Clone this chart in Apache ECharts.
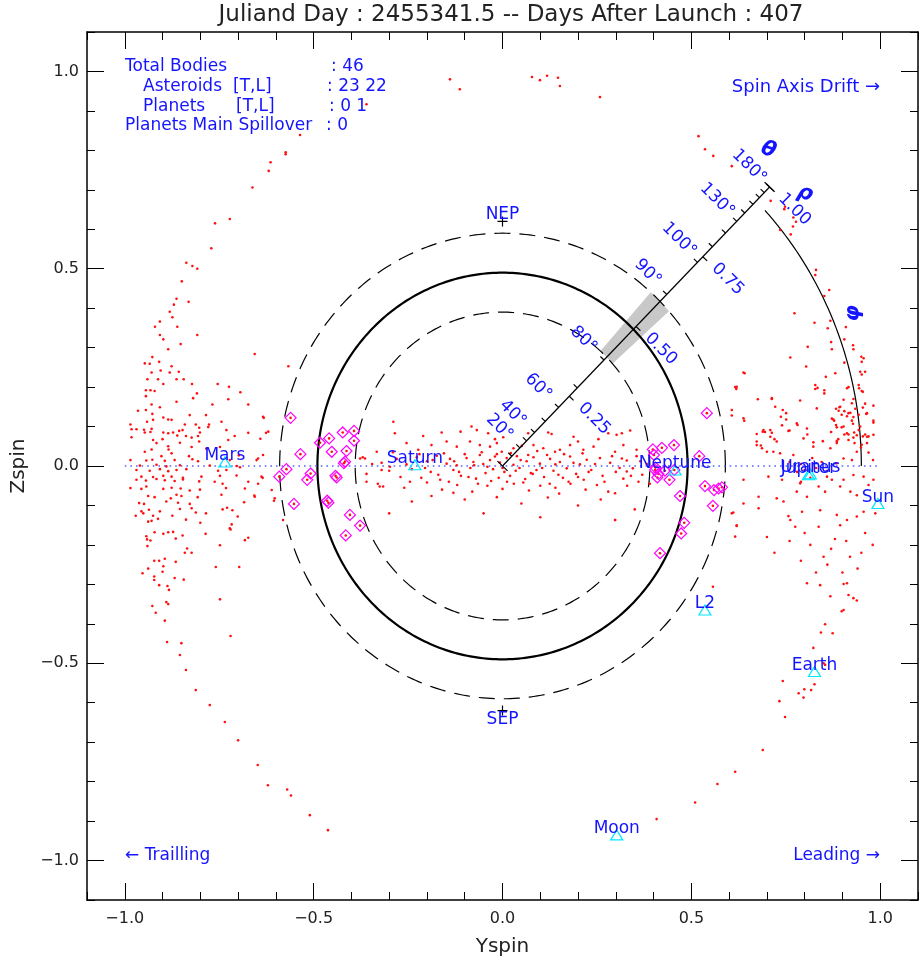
<!DOCTYPE html>
<html><head><meta charset="utf-8">
<script src="https://cdn.jsdelivr.net/npm/echarts@6/dist/echarts.min.js"></script>
<style>html,body{margin:0;padding:0;background:#fff}#c{width:920px;height:963px}</style>
</head><body><div id="c"></div>
<script>
// ---------- data ----------
const xMajorTicks = [-1.0, -0.5, 0.0, 0.5, 1.0];
const yMajorTicks = [-1.0, -0.5, 0.0, 0.5, 1.0];
const ringInner = 0.39, ringMain = 0.49, ringOuter = 0.59;
const radialAxisAngle = 45;
const rhoTicks = [0.25, 0.5, 0.75, 1.0];
const rhoTickLabels = ['0.25', '0.50', '0.75', '1.00'];
const thetaTickRho = [0.035, 0.065, 0.09, 0.12, 0.16, 0.21, 0.28, 0.38, 0.615, 0.73, 0.786, 0.835, 0.877, 0.907, 0.938, 0.962, 0.98, 1.0];
const thetaLabelDeg = [20, 40, 60, 80, 90, 100, 130, 180];
const thetaLabelRho = [0.065, 0.115, 0.21, 0.38, 0.62, 0.738, 0.88, 1.0];
const bandRho = [0.39, 0.59];
const bandHalfDeg = 3.3;
const phiArcRadius = 0.95, phiArcEndDeg = 43;
const poleNames = ['NEP', 'SEP'];
const poleY = [0, 0];
const poleZ = [0.62, -0.62];
const planetNames = ['Mars', 'Saturn', 'Neptune', 'Jupiter', 'Uranus', 'Sun', 'L2', 'Earth', 'Moon'];
const planetY = [-0.735, -0.232, 0.457, 0.81, 0.815, 0.994, 0.536, 0.826, 0.3025];
const planetZ = [0.01, 0.003, -0.01, -0.022, -0.02, -0.095, -0.365, -0.521, -0.935];
const trailingAsteroids = [[-0.561,0.122],[-0.459,0.070],[-0.483,0.059],[-0.423,0.085],[-0.393,0.089],[-0.393,0.064],[-0.535,0.030],[-0.452,0.036],[-0.413,0.038],[-0.417,0.011],[-0.420,0.007],[-0.572,-0.008],[-0.591,-0.027],[-0.508,-0.019],[-0.517,-0.035],[-0.442,-0.025],[-0.439,-0.029],[-0.464,-0.088],[-0.461,-0.093],[-0.552,-0.096],[-0.404,-0.124],[-0.377,-0.151],[-0.415,-0.176]];
const leadingAsteroids = [[0.541,0.134],[0.398,0.042],[0.422,0.046],[0.454,0.053],[0.401,0.028],[0.521,0.025],[0.404,-0.010],[0.413,-0.020],[0.410,-0.029],[0.442,-0.035],[0.536,-0.051],[0.560,-0.061],[0.581,-0.054],[0.572,-0.057],[0.470,-0.076],[0.557,-0.101],[0.481,-0.144],[0.473,-0.171],[0.417,-0.221],[0.430,-0.012],[0.405,-0.004],[0.455,-0.010]];
const debrisLeft = [[-0.907,0.332],[-0.808,0.332],[-0.898,0.321],[-0.852,0.309],[-0.885,0.296],[-0.656,0.284],[-0.927,0.276],[-0.947,0.26],[-0.934,0.259],[-0.909,0.264],[-0.876,0.253],[-0.567,0.253],[-0.905,0.242],[-0.929,0.237],[-0.881,0.237],[-0.857,0.239],[-0.94,0.22],[-0.912,0.22],[-0.863,0.22],[-0.844,0.22],[-0.898,0.208],[-0.822,0.208],[-0.754,0.208],[-0.724,0.201],[-0.944,0.192],[-0.932,0.192],[-0.921,0.19],[-0.809,0.184],[-0.694,0.187],[-0.944,0.177],[-0.819,0.172],[-0.726,0.169],[-0.863,0.163],[-0.929,0.156],[-0.768,0.156],[-0.673,0.156],[-0.907,0.149],[-0.965,0.14],[-0.944,0.142],[-0.927,0.132],[-0.828,0.129],[-0.785,0.129],[-0.632,0.122],[-0.898,0.123],[-0.885,0.118],[-0.876,0.117],[-0.925,0.117],[-0.941,0.112],[-0.744,0.112],[-0.985,0.105],[-0.841,0.105],[-0.812,0.105],[-0.777,0.105],[-0.779,0.099],[-0.803,0.097],[-0.982,0.093],[-0.969,0.093],[-0.929,0.094],[-0.949,0.092],[-0.731,0.091],[-0.856,0.089],[-0.847,0.091],[-0.947,0.085],[-0.932,0.086],[-0.898,0.085],[-0.885,0.083],[-0.872,0.085],[-0.801,0.085],[-0.673,0.084],[-0.626,0.084],[-0.709,0.076],[-0.861,0.077],[-0.823,0.072],[-0.806,0.076],[-0.838,0.076],[-0.726,0.066],[-0.982,0.073],[-0.925,0.066],[-0.9,0.068],[-0.916,0.058],[-0.854,0.059],[-0.803,0.062],[-0.641,0.069],[-0.823,0.048],[-0.885,0.05],[-0.748,0.048],[-0.884,0.042],[-0.929,0.042],[-0.784,0.044],[-0.947,0.036],[-0.876,0.032],[-0.903,0.025],[-0.83,0.025],[-0.647,0.019],[-0.634,0.028],[-0.698,0.027],[-0.985,0.015],[-0.943,0.014],[-0.927,0.016],[-0.894,0.013],[-0.868,0.015],[-0.821,0.017],[-0.722,0.015],[-0.806,0.012],[-0.96,0.001],[-0.916,0.003],[-0.89,-0.001],[-0.854,0.002],[-0.775,0.001],[-0.704,0.0],[-0.695,-0.003],[-0.969,-0.01],[-0.934,-0.012],[-0.907,-0.008],[-0.885,-0.013],[-0.863,-0.01],[-0.837,-0.008],[-0.753,-0.012],[-0.731,-0.01],[-0.956,-0.027],[-0.925,-0.028],[-0.898,-0.025],[-0.876,-0.027],[-0.846,-0.03],[-0.797,-0.027],[-0.748,-0.025],[-0.704,-0.024],[-0.635,-0.03],[-0.969,-0.035],[-0.944,-0.037],[-0.916,-0.033],[-0.894,-0.036],[-0.868,-0.038],[-0.846,-0.034],[-0.803,-0.039],[-0.762,-0.04],[-0.741,-0.045],[-0.673,-0.04],[-0.647,-0.045],[-0.985,-0.056],[-0.956,-0.058],[-0.943,-0.052],[-0.898,-0.058],[-0.876,-0.055],[-0.852,-0.057],[-0.828,-0.062],[-0.801,-0.06],[-0.732,-0.056],[-0.682,-0.057],[-0.938,-0.076],[-0.921,-0.079],[-0.878,-0.082],[-0.863,-0.073],[-0.85,-0.076],[-0.807,-0.079],[-0.744,-0.073],[-0.657,-0.075],[-0.962,-0.094],[-0.949,-0.096],[-0.89,-0.09],[-0.859,-0.093],[-0.828,-0.096],[-0.684,-0.092],[-0.605,-0.088],[-0.956,-0.115],[-0.936,-0.111],[-0.907,-0.115],[-0.854,-0.109],[-0.823,-0.107],[-0.812,-0.118],[-0.741,-0.11],[-0.729,-0.106],[-0.715,-0.112],[-0.785,-0.12],[-0.971,-0.126],[-0.951,-0.12],[-0.925,-0.126],[-0.912,-0.134],[-0.874,-0.126],[-0.838,-0.136],[-0.701,-0.128],[-0.938,-0.141],[-0.929,-0.139],[-0.8,-0.144],[-0.717,-0.148],[-0.722,-0.158],[-0.72,-0.161],[-0.921,-0.168],[-0.898,-0.172],[-0.885,-0.168],[-0.872,-0.167],[-0.847,-0.176],[-0.786,-0.172],[-0.943,-0.178],[-0.941,-0.186],[-0.932,-0.189],[-0.865,-0.184],[-0.682,-0.188],[-0.673,-0.182],[-0.94,-0.203],[-0.835,-0.209],[-0.841,-0.22],[-0.823,-0.22],[-0.748,-0.201],[-0.922,-0.24],[-0.909,-0.24],[-0.894,-0.235],[-0.865,-0.243],[-0.938,-0.26],[-0.898,-0.254],[-0.759,-0.256],[-0.697,-0.256],[-0.953,-0.272],[-0.9,-0.268],[-0.922,-0.28],[-0.922,-0.289],[-0.868,-0.284],[-0.844,-0.288],[-0.909,-0.302],[-0.887,-0.304],[-0.883,-0.314],[-0.748,-0.338],[-0.89,-0.345],[-0.885,-0.35],[-0.927,-0.355],[-0.918,-0.372],[-0.894,-0.392],[-0.72,-0.431],[-0.888,-0.446],[-0.85,-0.449],[-0.854,-0.479],[-0.838,-0.517],[-0.812,-0.568],[-0.775,-0.606],[-0.735,-0.649],[-0.7,-0.695],[-0.648,-0.758],[-0.621,-0.809],[-0.57,-0.82],[-0.56,-0.835],[-0.51,-0.885],[-0.462,-0.923],[-0.536,0.839],[-0.574,0.795],[-0.574,0.79],[-0.614,0.77],[-0.619,0.748],[-0.662,0.706],[-0.722,0.626],[-0.761,0.615],[-0.771,0.552],[-0.837,0.515],[-0.821,0.507],[-0.808,0.5],[-0.849,0.468],[-0.831,0.416],[-0.863,0.424],[-0.87,0.409],[-0.881,0.391],[-0.874,0.377],[-0.907,0.366],[-0.92,0.353],[-0.861,0.353],[-0.634,0.125],[-0.62,0.087],[-0.651,0.015],[-0.638,-0.027],[-0.611,-0.061],[-0.656,-0.078],[-0.603,-0.082],[-0.581,-0.137]];
const debrisCenter = [[-0.37,0.022],[-0.32,0.008],[-0.28,0.018],[-0.254,0.004],[-0.227,0.022],[-0.2,0.012],[-0.174,0.026],[-0.148,0.006],[-0.139,0.018],[-0.121,0.002],[-0.095,0.02],[-0.077,0.01],[-0.06,0.028],[-0.051,0.005],[-0.033,0.015],[-0.02,0.024],[-0.007,0.009],[0.011,0.02],[0.029,0.003],[0.038,0.025],[0.064,0.012],[0.082,0.022],[0.099,0.006],[0.126,0.018],[0.152,0.01],[0.179,0.024],[0.205,0.004],[0.223,0.016],[0.258,0.02],[0.285,0.008],[0.329,0.014],[0.355,0.025],[0.382,0.005],[-0.36,-0.02],[-0.3,-0.012],[-0.27,-0.028],[-0.24,-0.008],[-0.215,-0.03],[-0.19,-0.015],[-0.165,-0.035],[-0.13,-0.01],[-0.11,-0.025],[-0.085,-0.005],[-0.07,-0.032],[-0.045,-0.018],[-0.025,-0.008],[-0.01,-0.03],[0.005,-0.015],[0.02,-0.025],[0.045,-0.005],[0.06,-0.033],[0.075,-0.018],[0.09,-0.01],[0.11,-0.028],[0.135,-0.012],[0.16,-0.03],[0.17,-0.006],[0.195,-0.02],[0.215,-0.035],[0.235,-0.01],[0.265,-0.025],[0.3,-0.015],[0.32,-0.032],[0.345,-0.006],[0.37,-0.022],[-0.33,-0.045],[-0.26,-0.055],[-0.2,-0.042],[-0.16,-0.06],[-0.12,-0.048],[-0.08,-0.065],[-0.04,-0.05],[0.0,-0.058],[0.03,-0.045],[0.07,-0.062],[0.1,-0.05],[0.14,-0.055],[0.18,-0.045],[0.22,-0.06],[0.25,-0.048],[0.28,-0.065],[0.33,-0.05],[0.36,-0.04],[-0.316,-0.052],[-0.188,-0.076],[-0.015,-0.079],[-0.24,-0.09],[-0.1,-0.085],[0.05,-0.095],[0.12,-0.08],[0.2,-0.1],[0.26,-0.085],[0.298,-0.137],[0.35,-0.11],[-0.3,-0.12],[-0.05,-0.12],[0.1,-0.13],[-0.289,0.112],[-0.285,0.083],[-0.21,0.076],[-0.161,0.085],[-0.111,0.087],[-0.082,0.1],[-0.068,0.091],[-0.038,0.083],[0.002,0.073],[0.068,0.083],[0.121,0.085],[0.13,0.081],[0.188,0.074],[0.254,0.068],[0.316,0.083],[0.338,0.09],[0.28,0.083],[-0.377,0.019],[-0.333,0.036],[-0.254,0.058],[-0.223,0.041],[-0.188,0.053],[-0.148,0.062],[-0.121,0.049],[-0.086,0.062],[-0.06,0.053],[-0.033,0.049],[-0.015,0.058],[-0.002,0.036],[0.029,0.045],[0.051,0.051],[0.082,0.053],[0.108,0.045],[0.139,0.036],[0.152,0.041],[0.179,0.053],[0.214,0.041],[0.241,0.049],[0.298,0.036],[0.32,0.053],[0.355,0.041],[-0.364,0.019],[-0.36,-0.04],[-0.325,-0.052],[-0.32,-0.01],[-0.298,-0.002],[0.302,0.079],[0.316,0.019],[0.329,-0.014],[0.298,-0.069],[-0.22,0.03],[-0.205,-0.005],[-0.185,0.015],[-0.17,-0.022],[-0.155,0.032],[-0.142,-0.04],[-0.128,0.012],[-0.115,-0.015],[-0.1,0.03],[-0.09,-0.028],[-0.075,0.002],[-0.065,-0.045],[-0.055,0.035],[-0.04,-0.002],[-0.03,-0.038],[-0.015,0.03],[0.0,-0.005],[0.012,-0.04],[0.022,0.033],[0.035,-0.012],[0.048,0.015],[0.055,-0.042],[0.068,0.028],[0.08,-0.02],[0.092,0.038],[0.105,-0.005],[0.118,0.028],[0.125,-0.045],[0.14,0.004],[0.148,-0.022],[0.163,0.03],[0.175,-0.04],[0.188,0.008],[0.2,-0.028],[0.212,0.032],[0.228,-0.015],[0.245,0.005],[0.27,-0.04],[0.29,0.025],[0.31,-0.005],[0.34,-0.025],[0.365,0.012],[0.39,-0.045],[-0.245,-0.04],[-0.29,0.035],[-0.345,0.005],[0.2,0.062],[-0.02,0.068],[0.15,-0.07],[-0.13,-0.068]];
const debrisRight = [[0.865,0.446],[0.852,0.431],[0.773,0.387],[0.826,0.363],[0.868,0.368],[0.861,0.349],[0.909,0.352],[0.905,0.321],[0.87,0.314],[0.808,0.302],[0.872,0.296],[0.928,0.306],[0.929,0.296],[0.762,0.275],[0.804,0.252],[0.95,0.277],[0.956,0.273],[0.951,0.264],[0.905,0.262],[0.641,0.235],[0.856,0.226],[0.881,0.235],[0.947,0.239],[0.96,0.239],[0.951,0.232],[0.619,0.195],[0.828,0.195],[0.834,0.198],[0.852,0.192],[0.912,0.197],[0.916,0.2],[0.944,0.197],[0.951,0.19],[0.676,0.169],[0.713,0.17],[0.788,0.166],[0.903,0.168],[0.929,0.17],[0.96,0.158],[0.982,0.153],[0.722,0.15],[0.742,0.142],[0.832,0.146],[0.883,0.145],[0.892,0.149],[0.89,0.14],[0.905,0.139],[0.921,0.135],[0.934,0.145],[0.954,0.148],[0.607,0.128],[0.64,0.115],[0.737,0.125],[0.751,0.118],[0.872,0.12],[0.878,0.115],[0.898,0.13],[0.912,0.126],[0.929,0.124],[0.943,0.13],[0.963,0.132],[0.982,0.115],[0.74,0.103],[0.781,0.104],[0.883,0.104],[0.898,0.098],[0.925,0.115],[0.928,0.107],[0.947,0.1],[0.982,0.11],[0.673,0.081],[0.695,0.086],[0.713,0.084],[0.76,0.09],[0.807,0.08],[0.87,0.086],[0.905,0.08],[0.916,0.08],[0.938,0.078],[0.954,0.075],[0.96,0.08],[0.969,0.075],[0.673,0.062],[0.684,0.052],[0.72,0.068],[0.726,0.062],[0.797,0.07],[0.823,0.06],[0.848,0.063],[0.885,0.063],[0.889,0.068],[0.916,0.066],[0.929,0.072],[0.932,0.058],[0.951,0.054],[0.949,0.047],[0.965,0.058],[0.828,0.205],[0.852,0.184],[0.943,0.205],[0.954,0.188],[0.894,0.15],[0.916,0.134],[0.965,0.134],[0.925,0.159],[0.689,0.087],[0.709,0.091],[0.757,0.089],[0.806,0.095],[0.876,0.118],[0.885,0.098],[0.903,0.1],[0.912,0.083],[0.931,0.085],[0.943,0.091],[0.965,0.074],[0.982,0.079],[0.751,0.134],[0.779,0.108],[0.673,0.053],[0.7,0.036],[0.735,0.032],[0.77,0.028],[0.823,0.049],[0.868,0.045],[0.885,0.058],[0.903,0.019],[0.925,0.015],[0.938,0.036],[0.969,0.034],[0.981,0.015],[0.885,0.007],[0.704,-0.027],[0.74,-0.035],[0.788,-0.044],[0.859,-0.027],[0.872,-0.035],[0.903,-0.035],[0.929,-0.023],[0.956,-0.027],[0.982,-0.035],[0.837,-0.052],[0.678,-0.078],[0.726,-0.082],[0.779,-0.065],[0.806,-0.078],[0.854,-0.065],[0.894,-0.052],[0.921,-0.065],[0.938,-0.074],[0.969,-0.048],[0.744,-0.09],[0.611,-0.118],[0.638,-0.095],[0.678,-0.107],[0.757,-0.127],[0.762,-0.137],[0.793,-0.116],[0.841,-0.112],[0.885,-0.124],[0.912,-0.137],[0.938,-0.128],[0.956,-0.116],[0.987,-0.12],[0.62,-0.152],[0.775,-0.154],[0.837,-0.154],[0.894,-0.15],[0.79,0.005],[0.8,-0.01],[0.83,-0.005],[0.845,0.01],[0.82,0.02],[0.78,-0.015],[0.76,0.01],[0.86,-0.012],[0.815,-0.03],[0.79,-0.04],[0.76,-0.19],[0.815,-0.2],[0.87,-0.21],[0.92,-0.23],[0.95,-0.22],[0.79,-0.24],[0.86,-0.25],[0.98,-0.2],[0.9,-0.27],[0.83,-0.27],[0.94,-0.26],[0.72,-0.22],[0.88,-0.185],[0.96,-0.17],[0.8,-0.17],[0.7,-0.18],[0.85,-0.23],[0.91,-0.19],[0.806,-0.297],[0.841,-0.302],[0.903,-0.299],[0.912,-0.297],[0.868,-0.33],[0.916,-0.327],[0.929,-0.335],[0.938,-0.341],[0.898,-0.368],[0.903,-0.365],[0.854,-0.401],[0.843,-0.422],[0.874,-0.424],[0.823,-0.461],[0.85,-0.5],[0.854,-0.504],[0.826,-0.553],[0.742,-0.545],[0.817,-0.568],[0.799,-0.566],[0.784,-0.576],[0.797,-0.587],[0.733,-0.596],[0.748,-0.636],[0.689,-0.72],[0.616,-0.775],[0.569,-0.806],[0.51,-0.853],[0.408,-0.895],[0.557,-0.306],[0.519,0.836],[0.536,0.803],[0.558,0.786],[0.607,0.76],[0.71,0.672],[0.748,0.657],[0.746,0.651],[0.77,0.63],[0.777,0.619],[0.735,0.598],[0.763,0.587],[0.769,0.607],[0.83,0.497],[0.828,0.484],[0.638,0.237],[0.616,0.2],[0.713,0.172],[0.691,0.091],[0.709,0.074],[0.687,0.045],[0.717,0.036],[0.62,0.201],[0.607,0.142],[0.638,0.121],[0.638,-0.035],[0.616,-0.179],[0.607,-0.12],[0.62,-0.15],[0.298,-0.137]];
const debrisTop = [[-0.139,0.98],[-0.113,0.955],[0.078,0.986],[0.099,0.978],[0.118,0.989],[0.147,0.984],[0.152,0.963],[0.258,0.935],[-0.36,0.917]];

// ---------- chart ----------
const FONT = '"DejaVu Sans", sans-serif';
const BLUE = '#1414ff';
const C45 = Math.cos(radialAxisAngle * Math.PI / 180), S45 = Math.sin(radialAxisAngle * Math.PI / 180);
const fmt = v => (v < 0 ? '\u2212' : '') + Math.abs(v).toFixed(1);

function ring(r, width, dash) {
  return { type: 'custom', coordinateSystem: 'cartesian2d', silent: true, z: 3, data: [[0, 0]],
    renderItem: (p, api) => {
      const c = api.coord([0, 0]), s = api.size([r, r]);
      const pts = [];
      for (let i = 0; i <= 360; i += 1) { const a = i * Math.PI / 180; pts.push([c[0] + s[0] * Math.cos(a), c[1] - s[1] * Math.sin(a)]); }
      return { type: 'polyline', shape: { points: pts }, style: { stroke: '#000', lineWidth: width, fill: null, lineDash: dash } };
    } };
}

function axisPair(dir, pos, withLabels, name) {
  const major = {
    type: 'value', min: -1.1, max: 1.1, position: pos,
    axisLine: { show: true, onZero: false, lineStyle: { color: '#000', width: 1.5 } },
    axisTick: { show: true, inside: true, length: 17, customValues: dir === 'x' ? xMajorTicks : yMajorTicks, lineStyle: { color: '#000', width: 1 } },
    axisLabel: withLabels ? { show: true, customValues: dir === 'x' ? xMajorTicks : yMajorTicks, formatter: fmt, color: '#222', fontSize: 16, fontFamily: FONT, margin: dir === 'x' ? 11 : 8 } : { show: false },
    splitLine: { show: false }
  };
  if (name) Object.assign(major, name);
  const minor = {
    type: 'value', min: -1.1, max: 1.1, interval: 0.1, position: pos,
    axisLine: { show: false, onZero: false }, axisTick: { show: true, inside: true, length: 8, lineStyle: { color: '#000', width: 1 } },
    axisLabel: { show: false }, splitLine: { show: false }
  };
  return [major, minor];
}

const xAxes = [
  ...axisPair('x', 'bottom', true, { name: 'Yspin', nameLocation: 'middle', nameGap: 37, nameTextStyle: { fontSize: 20, fontFamily: FONT, color: '#222' } }),
  ...axisPair('x', 'top', false)
];
const yAxes = [
  ...axisPair('y', 'left', true, { name: 'Zspin', nameLocation: 'middle', nameGap: 58, nameRotate: 90, nameTextStyle: { fontSize: 20, fontFamily: FONT, color: '#222' } }),
  ...axisPair('y', 'right', false)
];

const bandSeries = { type: 'custom', coordinateSystem: 'cartesian2d', silent: true, z: 2, data: [[0, 0]],
  renderItem: (p, api) => {
    const pts = [];
    const a0 = radialAxisAngle - bandHalfDeg, a1 = radialAxisAngle + bandHalfDeg;
    for (let k = 0; k <= 10; k++) { const a = (a0 + (a1 - a0) * k / 10) * Math.PI / 180; pts.push(api.coord([bandRho[1] * Math.cos(a), bandRho[1] * Math.sin(a)])); }
    for (let k = 10; k >= 0; k--) { const a = (a0 + (a1 - a0) * k / 10) * Math.PI / 180; pts.push(api.coord([bandRho[0] * Math.cos(a), bandRho[0] * Math.sin(a)])); }
    return { type: 'polygon', shape: { points: pts }, style: { fill: '#c8c8c8' } };
  } };

const phiArc = { type: 'custom', coordinateSystem: 'cartesian2d', silent: true, z: 3, data: [[0, 0]],
  renderItem: (p, api) => {
    const pts = [];
    for (let d = 0; d <= phiArcEndDeg; d += 0.5) { const a = d * Math.PI / 180; pts.push(api.coord([phiArcRadius * Math.cos(a), phiArcRadius * Math.sin(a)])); }
    return { type: 'polyline', shape: { points: pts }, style: { stroke: '#000', lineWidth: 1.2, fill: null } };
  } };

const radialAxis = { type: 'custom', coordinateSystem: 'cartesian2d', silent: true, z: 6, data: [[0, 0]],
  renderItem: (p, api) => {
    const o = api.coord([0, 0]), e = api.coord([C45, S45]);
    const dx = e[0] - o[0], dy = e[1] - o[1], L = Math.hypot(dx, dy);
    const nx = -dy / L, ny = dx / L;
    const P = r => [o[0] + dx * r, o[1] + dy * r];
    const ln = (a, b) => ({ type: 'line', shape: { x1: a[0], y1: a[1], x2: b[0], y2: b[1] }, style: { stroke: '#000', lineWidth: 1.2 } });
    const ch = [ln(o, e)];
    thetaTickRho.forEach(r => { const q = P(r); ch.push(ln(q, [q[0] - nx * 5, q[1] - ny * 5])); });
    rhoTicks.forEach(r => { const q = P(r); ch.push(ln(q, [q[0] + nx * 6, q[1] + ny * 6])); });
    [0, 1].forEach(r => { const q = P(r); ch.push(ln([q[0] - nx * 7, q[1] - ny * 7], [q[0] + nx * 7, q[1] + ny * 7])); });
    return { type: 'group', children: ch };
  } };

const labelStyle = { show: true, position: 'inside', formatter: '{b}', color: BLUE, fontSize: 17, fontFamily: FONT, textBorderWidth: 0 };
const hidden = { color: 'rgba(0,0,0,0)', opacity: 1 };

const rhoLabelSeries = { type: 'scatter', silent: true, z: 7, symbolSize: 1, itemStyle: hidden,
  label: Object.assign({}, labelStyle, { rotate: -45 }),
  data: rhoTicks.map((r, i) => ({ name: rhoTickLabels[i], value: [r * C45 + 0.066, r * S45 - 0.057] })) };
const thetaLabelSeries = { type: 'scatter', silent: true, z: 7, symbolSize: 1, itemStyle: hidden,
  label: Object.assign({}, labelStyle, { rotate: -45 }),
  data: thetaLabelDeg.map((d, i) => ({ name: d + '\u00b0', value: [thetaLabelRho[i] * C45 - 0.054, thetaLabelRho[i] * S45 + 0.052] })) };
const greekSeries = { type: 'scatter', silent: true, z: 7, symbolSize: 1, itemStyle: hidden,
  data: [
    { name: '\u03b8', value: [0.704, 0.801], label: Object.assign({}, labelStyle, { fontSize: 21, fontWeight: 'bold', fontStyle: 'italic', rotate: -20 }) },
    { name: '\u03c1', value: [0.801, 0.691], label: Object.assign({}, labelStyle, { fontSize: 21, fontWeight: 'bold', fontStyle: 'italic', rotate: -20 }) },
    { name: '\u03c6', value: [0.929, 0.387], label: Object.assign({}, labelStyle, { fontSize: 21, fontWeight: 'bold', fontStyle: 'italic', rotate: 90 }) }
  ] };

const allDebris = [].concat(debrisLeft, debrisCenter, debrisRight, debrisTop, trailingAsteroids, leadingAsteroids);

const series = [
  bandSeries,
  ring(ringInner, 1.2, [16, 9]),
  ring(ringMain, 2.2, null),
  ring(ringOuter, 1.2, [16, 9]),
  phiArc,
  { type: 'line', silent: true, z: 3, symbol: 'none', data: [[-1, 0], [1, 0]], lineStyle: { color: '#5566ff', width: 1.6, type: [1.6, 4] } },
  { type: 'scatter', silent: true, z: 4, symbol: 'circle', symbolSize: 2.6, itemStyle: { color: '#ff1010', opacity: 1 }, data: allDebris },
  { type: 'scatter', silent: true, z: 5, symbol: 'diamond', symbolSize: 11, itemStyle: { color: 'rgba(0,0,0,0)', borderColor: '#ff00ff', borderWidth: 1.2, opacity: 1 }, data: trailingAsteroids.concat(leadingAsteroids) },
  radialAxis, rhoLabelSeries, thetaLabelSeries, greekSeries,
  { type: 'scatter', silent: true, z: 8, symbol: 'triangle', symbolSize: [12, 10], itemStyle: { color: 'rgba(0,0,0,0)', borderColor: '#00e8ff', borderWidth: 1.2, opacity: 1 },
    label: Object.assign({}, labelStyle, { offset: [0, -6] }),
    data: planetNames.map((n, i) => ({ name: n, value: [planetY[i], planetZ[i]] })) },
  { type: 'scatter', silent: true, z: 8, symbol: 'path://M5 0 L5 10 M0 5 L10 5', symbolSize: 10, itemStyle: { color: 'rgba(0,0,0,0)', borderColor: '#000', borderWidth: 1.2, opacity: 1 },
    data: poleNames.map((n, i) => ({ name: n, value: [poleY[i], poleZ[i]], label: Object.assign({}, labelStyle, { offset: [0, i === 0 ? -7 : 9] }) })) }
];

function T(x, y, text, o) {
  return { type: 'text', x: x, y: y, silent: true, z: 100,
    style: Object.assign({ text: text, fill: BLUE, font: '17px ' + FONT, align: 'left', verticalAlign: 'middle' }, o || {}) };
}
const graphics = [
  T(511, 15, 'Juliand Day : 2455341.5 -- Days After Launch : 407', { fill: '#222', font: '23px ' + FONT, align: 'center' }),
  T(125, 67, 'Total Bodies'), T(331, 67, ': 46'),
  T(143, 87, 'Asteroids'), T(233, 87, '[T,L]'), T(327, 87, ': 23 22'),
  T(143, 107, 'Planets'), T(236, 107, '[T,L]'), T(329, 107, ': 0 1'),
  T(125, 126, 'Planets Main Spillover'), T(326, 126, ': 0'),
  T(880, 87, 'Spin Axis Drift \u2192', { align: 'right', font: '18px ' + FONT }),
  T(125, 856, '\u2190 Trailling'),
  T(880, 856, 'Leading \u2192', { align: 'right' })
];

const chart = echarts.init(document.getElementById('c'), null, { renderer: 'canvas' });
chart.setOption({
  animation: false,
  backgroundColor: '#fff',
  grid: { left: 87, right: 2, top: 32, bottom: 63 },
  xAxis: xAxes,
  yAxis: yAxes,
  series: series,
  graphic: graphics
});
</script>
</body></html>
